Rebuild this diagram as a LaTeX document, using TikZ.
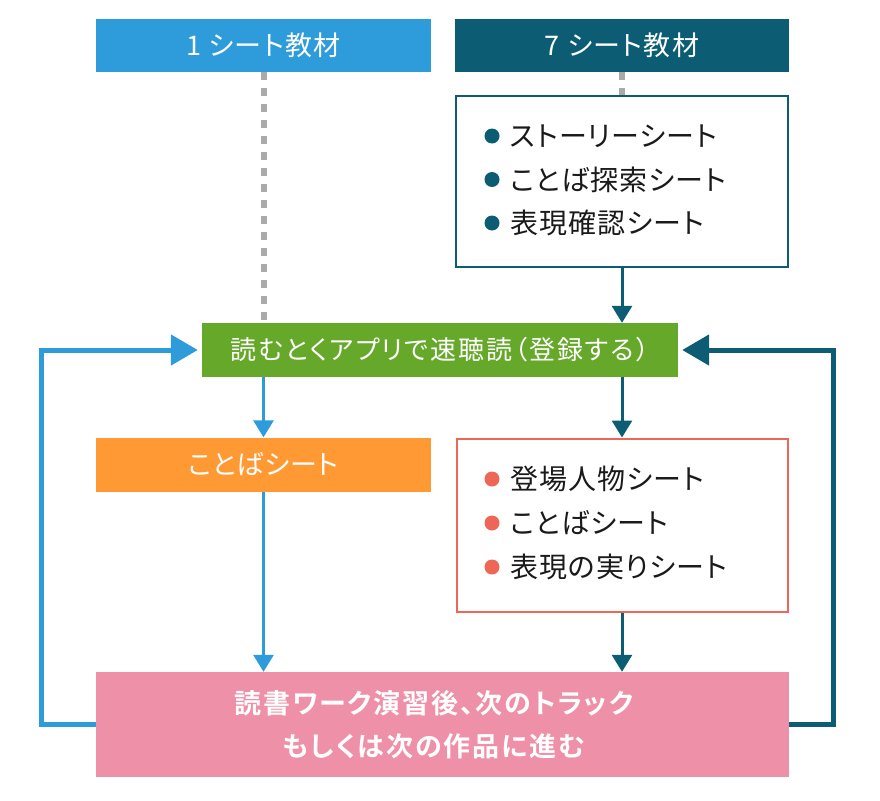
\documentclass[tikz,border=0pt]{standalone}
\usepackage{fontspec}
\setmainfont{Noto Sans CJK JP}[BoldFont={* Bold}, RawFeature=+palt]
\usetikzlibrary{arrows.meta}
\definecolor{cblue}{HTML}{2E9CDB}
\definecolor{cteal}{HTML}{0C5D73}
\definecolor{cgreen}{HTML}{66A82A}
\definecolor{corange}{HTML}{FF9933}
\definecolor{cred}{HTML}{EE6655}
\definecolor{cpink}{HTML}{EE91A8}
\definecolor{cgray}{HTML}{AAAAAA}
\definecolor{ctext}{HTML}{1A1A1A}
\tikzset{
  hdr/.style={rectangle, inner sep=0pt, text=white, font=\fontsize{27}{30}\selectfont\addfontfeature{LetterSpace=5}},
  listbox/.style={rectangle, fill=white, line width=2pt, inner sep=0pt},
  item/.style={anchor=west, inner sep=0pt, text=ctext, font=\fontsize{28}{32}\selectfont\addfontfeature{LetterSpace=4}},
  dots/.style={cgray, line width=6pt, dash pattern=on 8pt off 8pt},
  small/.style={line width=3pt, -{Triangle[length=17pt,width=20pt]}},
  big/.style={line width=5pt, -{Triangle[length=27pt,width=30pt]}},
}
\begin{document}
\begin{tikzpicture}[x=1pt,y=-1pt]
\useasboundingbox (0,0) rectangle (880,800);
% boxes
\node[hdr, fill=cblue, minimum width=335pt, minimum height=53pt] (one) at (263.5,45.5) {1 シート教材};
\node[hdr, fill=cteal, minimum width=334pt, minimum height=53pt] (seven) at (622,45.5) {7 シート教材};
\node[listbox, draw=cteal, minimum width=332pt, minimum height=171pt] (list7) at (622,181.5) {};
\node[hdr, fill=cgreen, minimum width=476pt, minimum height=54pt, font=\fontsize{26}{30}\selectfont\addfontfeature{LetterSpace=7.5}] (green) at (440,350) {読むとくアプリで速聴読（登録する）};
\node[hdr, fill=corange, minimum width=335pt, minimum height=54pt, font=\fontsize{27}{30}\selectfont\addfontfeature{LetterSpace=2}] (orange) at (263.5,464.5) {ことばシート};
\node[listbox, draw=cred, minimum width=331pt, minimum height=173pt] (list1) at (622,525) {};
\node[rectangle, fill=cpink, minimum width=693pt, minimum height=105pt, inner sep=0pt] (pink) at (442.5,724.5) {};
\node[inner sep=0pt, text=white, align=center,
  font=\bfseries\fontsize{27}{43}\selectfont\addfontfeature{LetterSpace=7}] (pinktext) at (434,724.5) {読書ワーク演習後、次のトラック\\もしくは次の作品に進む};
% list items
\foreach \t [count=\i] in {ストーリーシート, ことば探索シート, 表現確認シート}{
  \pgfmathsetmacro{\yy}{136+43.5*(\i-1)}
  \fill[cteal] (492,\yy) circle (7.5pt);
  \node[item] (a\i) at (510,\yy) {\t};
}
\foreach \t [count=\i] in {登場人物シート, ことばシート, 表現の実りシート}{
  \pgfmathsetmacro{\yy}{479+44*(\i-1)}
  \fill[cred] (492,\yy) circle (7.5pt);
  \node[item] (b\i) at (510,\yy) {\t};
}
% connectors
\draw[dots] (one.south) -- ([yshift=-3pt]one.south |- green.north);
\draw[dots] (seven.south) -- (list7.north);
\draw[cteal, small] (list7.south) -- (list7.south |- green.north);
\draw[cblue, small] (green.south -| orange.north) -- (orange.north);
\draw[cteal, small] (green.south -| list1.north) -- (list1.north);
\draw[cblue, small] (orange.south) -- (orange.south |- pink.north);
\draw[cteal, small] (list1.south) -- (list1.south |- pink.north);
\coordinate (lc) at ([xshift=-54pt]pink.west);
\coordinate (rc) at ([xshift=44pt]pink.east);
\draw[cblue, big] (pink.west) -- (lc) |- ([xshift=-4pt]green.west);
\draw[cteal, big] (pink.east) -- (rc) |- ([xshift=4pt]green.east);
\end{tikzpicture}
\end{document}
